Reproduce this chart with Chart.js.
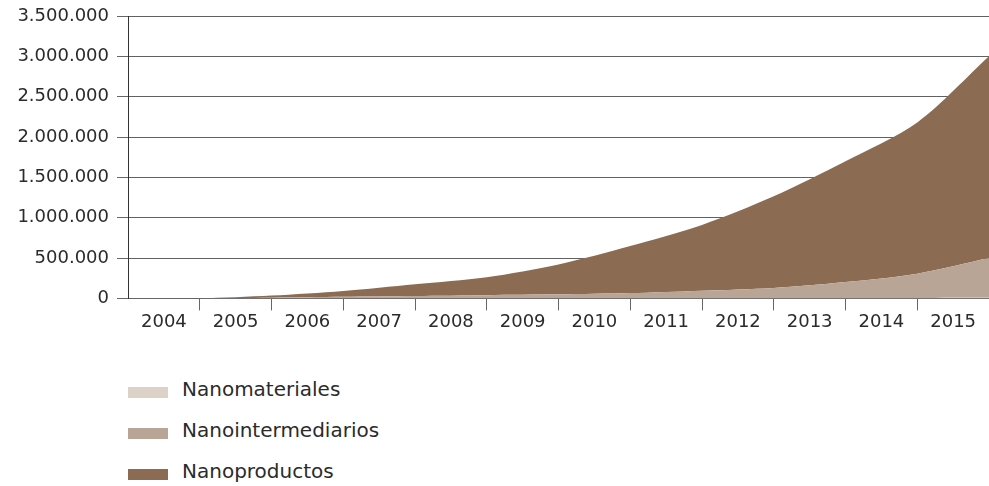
<!DOCTYPE html>
<html>
<head>
<meta charset="utf-8">
<script src="https://cdn.jsdelivr.net/npm/chart.js@4/dist/chart.umd.min.js"></script>
<style>
  html, body { margin: 0; padding: 0; background: #fff; }
  body { width: 989px; height: 486px; position: relative; overflow: hidden; font-family: "DejaVu Sans", sans-serif; }
  #wrap { position: absolute; left: 0; top: 0; width: 990px; height: 334px; }
  #legend { position: absolute; left: 128px; top: 372px; }
  .item { height: 41px; display: flex; align-items: center; }
  .sw { width: 40px; height: 11px; margin-right: 14px; }
  .lbl { font-size: 20px; color: #2b2b2b; position: relative; top: -4px; }
</style>
</head>
<body>
<div id="wrap"><canvas id="c"></canvas></div>
<div id="legend"></div>
<script>
// Category labels (one per band between boundaries)
const years = ["2004","2005","2006","2007","2008","2009","2010","2011","2012","2013","2014","2015"];
// Values at the band boundaries (start of 2004 ... end of 2015)
const seriesNames = ["Nanomateriales", "Nanointermediarios", "Nanoproductos"];
const nanomateriales     = [0, 0, 500, 1000, 1500, 2000, 2500, 3000, 3500, 4000, 5000, 6000, 8000];
const nanointermediarios = [0, 0, 7500, 19000, 28500, 38000, 47500, 63000, 92500, 126000, 198000, 301000, 492000];
const nanoproductos      = [0, 0, 27000, 72000, 145000, 222000, 370000, 582000, 814000, 1135000, 1497000, 1873000, 2500000];
const yTicks = [0, 500000, 1000000, 1500000, 2000000, 2500000, 3000000, 3500000];
const colors = ["#ddd2c8", "#b9a596", "#8b6b52"];

const seriesValues = [nanomateriales, nanointermediarios, nanoproductos];
const toPoints = arr => arr.map((v, i) => ({ x: i, y: v }));
const fmt = v => String(v).replace(/\B(?=(\d{3})+(?!\d))/g, ".");

const datasets = seriesValues.map((vals, k) => ({
  label: seriesNames[k],
  data: toPoints(vals),
  backgroundColor: colors[k],
  borderWidth: 0,
  pointRadius: 0,
  fill: k === 0 ? "origin" : "-1",
  tension: 0.3
}));

Chart.defaults.font.family = '"DejaVu Sans", sans-serif';
Chart.defaults.color = "#2b2b2b";

new Chart(document.getElementById("c"), {
  type: "line",
  data: { datasets },
  options: {
    responsive: true,
    maintainAspectRatio: false,
    animation: false,
    layout: { padding: { top: 16, right: 0, left: 0, bottom: 0 } },
    plugins: { legend: { display: false }, tooltip: { enabled: false } },
    scales: {
      x: {
        type: "linear",
        min: 0,
        max: years.length,
        afterBuildTicks: axis => {
          const t = [];
          for (let i = 0; i <= years.length * 2; i++) t.push({ value: i / 2 });
          axis.ticks = t;
        },
        ticks: {
          autoSkip: false,
          maxRotation: 0,
          padding: 1,
          font: { size: 18 },
          color: "#2b2b2b",
          callback: v => (v % 1 === 0.5 ? years[Math.floor(v)] : "")
        },
        grid: {
          drawOnChartArea: false,
          drawTicks: true,
          tickLength: 12,
          tickColor: ctx => (ctx.tick && Number.isInteger(ctx.tick.value) && ctx.tick.value > 0 && ctx.tick.value < years.length) ? "#666" : "rgba(0,0,0,0)"
        },
        border: { display: true, color: "#666", width: 1 }
      },
      y: {
        stacked: true,
        min: 0,
        max: yTicks[yTicks.length - 1],
        z: 1,
        afterFit: s => { s.width = 128; s.paddingTop = 0; },
        afterBuildTicks: axis => { axis.ticks = yTicks.map(v => ({ value: v })); },
        ticks: {
          padding: 8,
          font: { size: 18 },
          color: "#2b2b2b",
          callback: v => fmt(v)
        },
        grid: {
          color: "rgba(0,0,0,0.62)",
          lineWidth: 1,
          tickLength: 11,
          tickColor: "#666"
        },
        border: { display: true, color: "#333", width: 1 }
      }
    }
  }
});

// HTML legend built from the series names/colours
const lg = document.getElementById("legend");
seriesNames.forEach((n, k) => {
  const it = document.createElement("div");
  it.className = "item";
  it.innerHTML = '<div class="sw" style="background:' + colors[k] + '"></div><div class="lbl">' + n + '</div>';
  lg.appendChild(it);
});
</script>
</body>
</html>
